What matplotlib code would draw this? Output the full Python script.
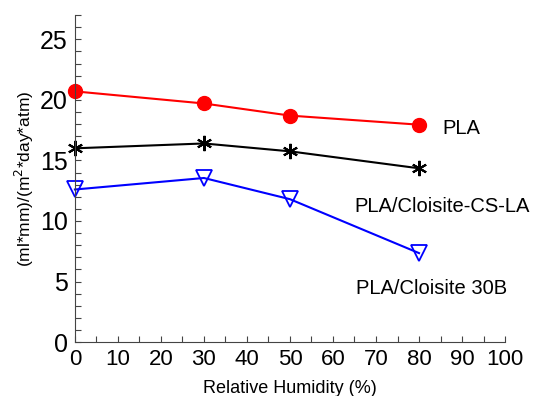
import matplotlib
matplotlib.use('Agg')
import matplotlib.pyplot as plt
from matplotlib.ticker import MultipleLocator

plt.rcParams['font.family'] = ['Liberation Sans', 'DejaVu Sans']

humidity = [0, 30, 50, 80]
pla = [20.7, 19.7, 18.7, 17.95]
pla_cs_la = [16.0, 16.4, 15.75, 14.35]
pla_30b = [12.6, 13.55, 11.8, 7.35]

fig = plt.figure(figsize=(5.35, 3.96), dpi=100)
ax = fig.add_axes([0.14, 0.136, 0.804, 0.826])

ax.plot(humidity, pla, color='red', lw=1.5, marker='o', ms=10, mfc='red', mec='red', clip_on=False)
ax.plot(humidity, pla_cs_la, color='black', lw=1.5, marker=(6, 2, 0), ms=11, mew=1.5, clip_on=False)
ax.plot(humidity, pla_30b, color='blue', lw=1.5, marker='v', ms=11, mfc='none', mec='blue', mew=1.3,
        clip_on=False)

ax.text(85.5, 17.6, 'PLA', fontsize=14.5, va='center')
ax.text(65, 11.2, 'PLA/Cloisite-CS-LA', fontsize=14.5, va='center')
ax.text(65.3, 4.4, 'PLA/Cloisite 30B', fontsize=14.5, va='center')

ax.set_xlim(0, 100)
ax.set_ylim(0, 27)
ax.xaxis.set_major_locator(MultipleLocator(10))
ax.xaxis.set_minor_locator(MultipleLocator(5))
ax.yaxis.set_major_locator(MultipleLocator(5))
ax.yaxis.set_minor_locator(MultipleLocator(1))
ax.tick_params(which='both', direction='in', length=4, width=0.8, color='#444444')
ax.tick_params(axis='y', labelsize=18, pad=5)
ax.tick_params(axis='x', labelsize=16, pad=5)
for s in ['top', 'right']:
    ax.spines[s].set_visible(False)
for s in ['left', 'bottom']:
    ax.spines[s].set_color('#444444')

ax.set_xlabel('Relative Humidity (%)', fontsize=13, labelpad=7)
ax.set_ylabel('(ml*mm)/(m$^2$*day*atm)', fontsize=12.5, labelpad=3)

fig.savefig('out.png', dpi=100)
